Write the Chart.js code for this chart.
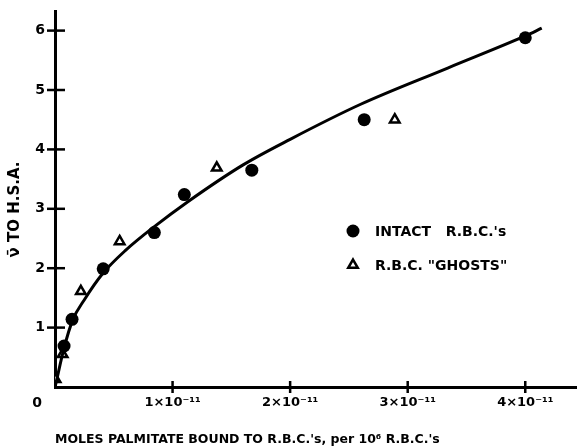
<!DOCTYPE html>
<html>
<head>
<meta charset="utf-8">
<script src="https://cdn.jsdelivr.net/npm/chart.js@4.4.1/dist/chart.umd.min.js"></script>
<style>
html, body { margin: 0; padding: 0; background: #fff; }
#wrap { width: 577px; height: 448px; }
</style>
</head>
<body>
<div id="wrap"><canvas id="chart"></canvas></div>
<script>
// x in units of 1x10^-11 moles per 10^6 RBC, y = nu-bar to H.S.A.
const intactX = [0.077, 0.145, 0.41, 0.845, 1.10, 1.674, 2.63, 4.0];
const intactY = [0.69, 1.14, 1.99, 2.60, 3.24, 3.65, 4.50, 5.88];
const ghostX = [0.005, 0.065, 0.22, 0.55, 1.376, 2.89];
const ghostY = [0.13, 0.55, 1.61, 2.45, 3.69, 4.50];
const curveX = [0.005, 0.079, 0.151, 0.25, 0.406, 0.6, 0.845, 1.13, 1.6, 2.0, 2.6, 3.34, 4.0, 4.14];
const curveY = [0.04, 0.67, 1.13, 1.47, 1.91, 2.30, 2.70, 3.12, 3.74, 4.17, 4.76, 5.37, 5.91, 6.04];
const xTicks = [1, 2, 3, 4];
const yTicks = [1, 2, 3, 4, 5, 6];
const xTickLabels = ['1×10⁻¹¹', '2×10⁻¹¹', '3×10⁻¹¹', '4×10⁻¹¹'];
const legendLabels = ['INTACT   R.B.C.\'s', 'R.B.C. "GHOSTS"'];

const FONT = '"DejaVu Sans", Arial, sans-serif';

function pairs(xs, ys) {
    return xs.map((v, i) => ({ x: v, y: ys[i] }));
}

// tick marks crossing the axes, the origin "0", and the legend inside the plot
const extras = {
    id: 'extras',
    afterDraw(chart) {
        const { ctx, chartArea, scales: { x, y } } = chart;
        ctx.save();
        ctx.strokeStyle = '#000';
        ctx.lineWidth = 2.5;
        xTicks.forEach(v => {
            const px = x.getPixelForValue(v);
            ctx.beginPath();
            ctx.moveTo(px, chartArea.bottom - 6);
            ctx.lineTo(px, chartArea.bottom + 6);
            ctx.stroke();
        });
        yTicks.forEach(v => {
            const py = y.getPixelForValue(v);
            ctx.beginPath();
            ctx.moveTo(chartArea.left - 8, py);
            ctx.lineTo(chartArea.left + 10, py);
            ctx.stroke();
        });

        ctx.fillStyle = '#000';
        ctx.font = 'bold 14px ' + FONT;
        ctx.textAlign = 'center';
        ctx.textBaseline = 'middle';
        ctx.fillText('0', x.getPixelForValue(0) - 18, chartArea.bottom + 16);

        // legend
        const lx = 353, ly = [231, 265];
        ctx.beginPath();
        ctx.arc(lx, ly[0], 6.5, 0, Math.PI * 2);
        ctx.fill();
        ctx.fillStyle = '#fff';
        ctx.strokeStyle = '#000';
        Chart.helpers.drawPoint(ctx, {
            pointStyle: 'triangle', radius: 5.5, rotation: 0, borderWidth: 2.5
        }, lx, ly[1]);
        ctx.textAlign = 'left';
        ctx.fillStyle = '#000';
        ctx.font = 'bold 14px ' + FONT;
        ctx.fillText(legendLabels[0], 375, ly[0] + 1);
        ctx.fillText(legendLabels[1], 375, ly[1] + 1);
        ctx.restore();
    }
};

new Chart(document.getElementById('chart'), {
    type: 'scatter',
    data: {
        datasets: [
            {
                label: 'fit',
                type: 'line',
                data: pairs(curveX, curveY),
                borderColor: '#000',
                borderWidth: 3,
                pointRadius: 0,
                fill: false,
                cubicInterpolationMode: 'monotone'
            },
            {
                label: legendLabels[0],
                data: pairs(intactX, intactY),
                pointStyle: 'circle',
                pointRadius: 6.5,
                backgroundColor: '#000',
                borderColor: '#000',
                borderWidth: 0
            },
            {
                label: legendLabels[1],
                data: pairs(ghostX, ghostY),
                pointStyle: 'triangle',
                pointRadius: 5.5,
                backgroundColor: '#fff',
                borderColor: '#000',
                borderWidth: 2.5
            }
        ]
    },
    options: {
        responsive: true,
        maintainAspectRatio: false,
        animation: false,
        events: [],
        layout: { autoPadding: false, padding: { top: 11, right: 0, left: 0, bottom: 0 } },
        plugins: {
            legend: { display: false },
            tooltip: { enabled: false }
        },
        scales: {
            x: {
                type: 'linear',
                min: 0,
                max: 4.44,
                afterFit: s => { s.height = 61; },
                afterBuildTicks: s => { s.ticks = xTicks.map(v => ({ value: v })); },
                grid: { display: false, drawTicks: false },
                border: { display: true, color: '#000', width: 3 },
                ticks: {
                    padding: 8,
                    color: '#000',
                    font: { family: FONT, size: 13, weight: 'bold' },
                    callback: (v) => xTickLabels[xTicks.indexOf(v)],
                    maxRotation: 0,
                    autoSkip: false
                },
                title: {
                    display: true,
                    text: 'MOLES PALMITATE BOUND TO R.B.C.\'s, per 10⁶ R.B.C.\'s',
                    align: 'start',
                    color: '#000',
                    font: { family: FONT, size: 12.5, weight: 'bold' },
                    padding: { top: 0, bottom: 1 }
                }
            },
            y: {
                type: 'linear',
                min: 0,
                max: 6.33,
                afterFit: s => { s.width = 55; s.paddingTop = 0; s.paddingBottom = 0; },
                afterBuildTicks: s => { s.ticks = yTicks.map(v => ({ value: v })); },
                grid: { display: false, drawTicks: false },
                border: { display: true, color: '#000', width: 3 },
                ticks: {
                    padding: 10,
                    color: '#000',
                    font: { family: FONT, size: 14, weight: 'bold' }
                },
                title: {
                    display: true,
                    text: 'ν̄ TO H.S.A.    ',
                    color: '#000',
                    font: { family: FONT, size: 15, weight: 'bold' },
                    padding: { top: 6, bottom: 0 }
                }
            }
        }
    },
    plugins: [extras]
});
</script>
</body>
</html>
